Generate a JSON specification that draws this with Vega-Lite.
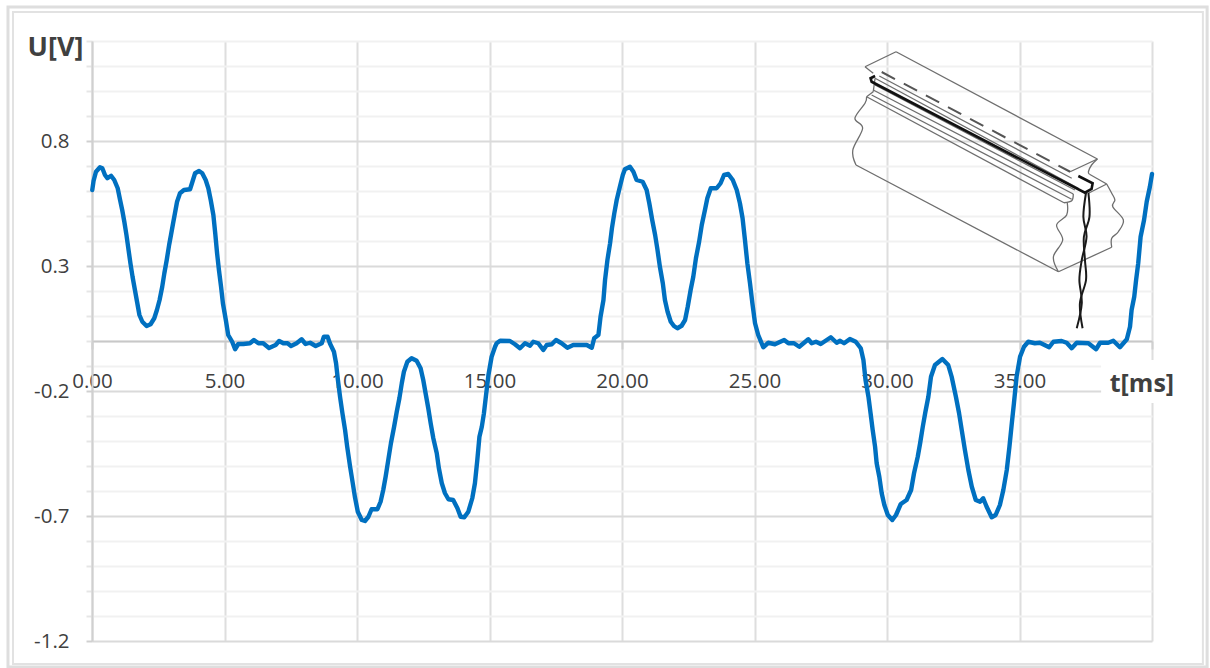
{
"$schema":"https://vega.github.io/schema/vega-lite/v6.json",
"width":1060,"height":600,
"autosize":{"type":"none"},
"padding":{"left":92,"top":41,"right":58,"bottom":27},
"background":"white",
"config":{"view":{"stroke":null},"font":"Open Sans"},
"datasets":{
"frameOuter":[{"t":-3.17,"t2":42.08,"U":1.336,"U2":-1.304}],
"frameInner":[{"t":-2.98,"t2":41.92,"U":1.316,"U2":-1.292}],
"labelBox":[{"t":38.08,"t2":41.2,"U":-0.076,"U2":-0.248}],
"xLabel":[{"t":39.62,"U":-0.172,"label":"t[ms]"}],
"signal":[
{"t":0.01,"U":0.604},{"t":0.06,"U":0.641},{"t":0.15,"U":0.677},{"t":0.30,"U":0.695},{"t":0.39,"U":0.691},{"t":0.49,"U":0.664},{"t":0.58,"U":0.651},{"t":0.72,"U":0.661},{"t":0.84,"U":0.644},{"t":0.97,"U":0.611},{"t":1.06,"U":0.564},{"t":1.14,"U":0.524},{"t":1.22,"U":0.477},{"t":1.30,"U":0.424},{"t":1.37,"U":0.371},{"t":1.45,"U":0.311},{"t":1.53,"U":0.257},{"t":1.62,"U":0.204},{"t":1.70,"U":0.157},{"t":1.79,"U":0.104},{"t":1.90,"U":0.077},{"t":2.06,"U":0.060},{"t":2.21,"U":0.067},{"t":2.35,"U":0.091},{"t":2.45,"U":0.124},{"t":2.55,"U":0.164},{"t":2.65,"U":0.217},{"t":2.73,"U":0.271},{"t":2.82,"U":0.324},{"t":2.91,"U":0.384},{"t":2.98,"U":0.424},{"t":3.06,"U":0.471},{"t":3.13,"U":0.511},{"t":3.21,"U":0.557},{"t":3.32,"U":0.591},{"t":3.47,"U":0.604},{"t":3.70,"U":0.607},{"t":3.79,"U":0.637},{"t":3.89,"U":0.671},{"t":4.04,"U":0.680},{"t":4.16,"U":0.671},{"t":4.29,"U":0.644},{"t":4.39,"U":0.611},{"t":4.48,"U":0.564},{"t":4.58,"U":0.504},{"t":4.65,"U":0.431},{"t":4.72,"U":0.351},{"t":4.79,"U":0.284},{"t":4.87,"U":0.217},{"t":4.94,"U":0.151},{"t":5.05,"U":0.084},{"t":5.14,"U":0.024},{"t":5.29,"U":-0.003},{"t":5.40,"U":-0.033},{"t":5.52,"U":-0.012},{"t":5.71,"U":-0.012},{"t":5.96,"U":-0.009},{"t":6.11,"U":0.004},{"t":6.28,"U":-0.009},{"t":6.46,"U":-0.009},{"t":6.68,"U":-0.028},{"t":6.93,"U":-0.016},{"t":7.06,"U":0.0},{"t":7.22,"U":-0.009},{"t":7.38,"U":-0.009},{"t":7.51,"U":-0.020},{"t":7.72,"U":-0.009},{"t":7.91,"U":0.007},{"t":8.06,"U":-0.012},{"t":8.23,"U":-0.007},{"t":8.44,"U":-0.020},{"t":8.67,"U":-0.009},{"t":8.75,"U":0.017},{"t":8.89,"U":0.017},
{"t":8.98,"U":-0.010},{"t":9.13,"U":-0.043},{"t":9.21,"U":-0.089},{"t":9.28,"U":-0.156},{"t":9.36,"U":-0.223},{"t":9.45,"U":-0.289},{"t":9.55,"U":-0.356},{"t":9.63,"U":-0.423},{"t":9.74,"U":-0.503},{"t":9.84,"U":-0.569},{"t":9.92,"U":-0.623},{"t":10.03,"U":-0.683},{"t":10.18,"U":-0.716},{"t":10.30,"U":-0.720},{"t":10.43,"U":-0.703},{"t":10.55,"U":-0.673},{"t":10.77,"U":-0.673},{"t":10.89,"U":-0.643},{"t":10.99,"U":-0.596},{"t":11.08,"U":-0.543},{"t":11.18,"U":-0.476},{"t":11.28,"U":-0.409},{"t":11.40,"U":-0.343},{"t":11.50,"U":-0.283},{"t":11.60,"U":-0.229},{"t":11.69,"U":-0.169},{"t":11.77,"U":-0.123},{"t":11.90,"U":-0.083},{"t":12.06,"U":-0.069},{"t":12.25,"U":-0.079},{"t":12.40,"U":-0.109},{"t":12.50,"U":-0.156},{"t":12.60,"U":-0.216},{"t":12.69,"U":-0.269},{"t":12.78,"U":-0.329},{"t":12.88,"U":-0.389},{"t":13.01,"U":-0.449},{"t":13.09,"U":-0.509},{"t":13.20,"U":-0.569},{"t":13.32,"U":-0.609},{"t":13.45,"U":-0.633},{"t":13.63,"U":-0.636},{"t":13.79,"U":-0.669},{"t":13.91,"U":-0.703},{"t":14.05,"U":-0.705},{"t":14.20,"U":-0.683},{"t":14.35,"U":-0.629},{"t":14.45,"U":-0.569},{"t":14.54,"U":-0.476},{"t":14.62,"U":-0.383},{"t":14.71,"U":-0.343},{"t":14.79,"U":-0.289},{"t":14.87,"U":-0.216},{"t":14.96,"U":-0.136},{"t":15.08,"U":-0.063},{"t":15.21,"U":-0.023},
{"t":15.27,"U":-0.009},{"t":15.40,"U":0.001},{"t":15.77,"U":0.0},{"t":15.96,"U":-0.013},{"t":16.15,"U":-0.029},{"t":16.34,"U":-0.009},{"t":16.53,"U":-0.019},{"t":16.65,"U":-0.003},{"t":16.84,"U":-0.009},{"t":17.03,"U":-0.036},{"t":17.16,"U":-0.016},{"t":17.35,"U":-0.013},{"t":17.51,"U":0.004},{"t":17.72,"U":-0.009},{"t":17.94,"U":-0.027},{"t":18.16,"U":-0.016},{"t":18.67,"U":-0.016},{"t":18.86,"U":-0.027},{"t":18.95,"U":0.011},{"t":19.07,"U":0.021},
{"t":19.11,"U":0.024},{"t":19.19,"U":0.097},{"t":19.30,"U":0.164},{"t":19.36,"U":0.244},{"t":19.45,"U":0.324},{"t":19.55,"U":0.391},{"t":19.62,"U":0.451},{"t":19.71,"U":0.511},{"t":19.80,"U":0.564},{"t":19.92,"U":0.617},{"t":20.03,"U":0.664},{"t":20.11,"U":0.687},{"t":20.30,"U":0.697},{"t":20.43,"U":0.677},{"t":20.55,"U":0.644},{"t":20.78,"U":0.637},{"t":20.93,"U":0.604},{"t":21.03,"U":0.551},{"t":21.14,"U":0.484},{"t":21.25,"U":0.424},{"t":21.33,"U":0.371},{"t":21.43,"U":0.297},{"t":21.54,"U":0.231},{"t":21.62,"U":0.164},{"t":21.72,"U":0.117},{"t":21.84,"U":0.077},{"t":21.96,"U":0.060},{"t":22.09,"U":0.051},{"t":22.25,"U":0.061},{"t":22.38,"U":0.084},{"t":22.48,"U":0.137},{"t":22.59,"U":0.204},{"t":22.69,"U":0.257},{"t":22.79,"U":0.331},{"t":22.91,"U":0.397},{"t":23.01,"U":0.464},{"t":23.13,"U":0.524},{"t":23.22,"U":0.571},{"t":23.35,"U":0.611},{"t":23.57,"U":0.611},{"t":23.72,"U":0.631},{"t":23.85,"U":0.664},{"t":24.01,"U":0.668},{"t":24.18,"U":0.644},{"t":24.33,"U":0.604},{"t":24.45,"U":0.551},{"t":24.55,"U":0.491},{"t":24.64,"U":0.404},{"t":24.73,"U":0.311},{"t":24.83,"U":0.231},{"t":24.92,"U":0.151},{"t":25.02,"U":0.071},{"t":25.14,"U":0.024},{"t":25.33,"U":-0.025},{"t":25.52,"U":-0.007},{"t":25.77,"U":-0.013},{"t":26.12,"U":0.004},{"t":26.28,"U":-0.009},{"t":26.49,"U":-0.009},{"t":26.69,"U":-0.023},{"t":27.03,"U":0.007},{"t":27.16,"U":-0.009},{"t":27.32,"U":-0.003},{"t":27.50,"U":-0.012},{"t":27.88,"U":0.015},{"t":28.10,"U":-0.007},{"t":28.23,"U":0.001},{"t":28.38,"U":-0.009},{"t":28.60,"U":0.008},{"t":28.82,"U":-0.003},{"t":29.01,"U":-0.029},
{"t":29.11,"U":-0.076},{"t":29.19,"U":-0.156},{"t":29.30,"U":-0.223},{"t":29.38,"U":-0.289},{"t":29.46,"U":-0.356},{"t":29.55,"U":-0.423},{"t":29.61,"U":-0.489},{"t":29.71,"U":-0.543},{"t":29.80,"U":-0.609},{"t":29.90,"U":-0.656},{"t":30.03,"U":-0.696},{"t":30.20,"U":-0.716},{"t":30.34,"U":-0.696},{"t":30.52,"U":-0.652},{"t":30.74,"U":-0.636},{"t":30.91,"U":-0.596},{"t":31.02,"U":-0.529},{"t":31.16,"U":-0.463},{"t":31.25,"U":-0.409},{"t":31.35,"U":-0.343},{"t":31.45,"U":-0.283},{"t":31.56,"U":-0.223},{"t":31.66,"U":-0.143},{"t":31.81,"U":-0.096},{"t":32.09,"U":-0.072},{"t":32.31,"U":-0.096},{"t":32.44,"U":-0.143},{"t":32.60,"U":-0.223},{"t":32.72,"U":-0.289},{"t":32.82,"U":-0.356},{"t":32.94,"U":-0.436},{"t":33.07,"U":-0.516},{"t":33.20,"U":-0.583},{"t":33.35,"U":-0.636},{"t":33.51,"U":-0.643},{"t":33.63,"U":-0.629},{"t":33.76,"U":-0.663},{"t":33.95,"U":-0.705},{"t":34.10,"U":-0.696},{"t":34.26,"U":-0.656},{"t":34.39,"U":-0.596},{"t":34.52,"U":-0.516},{"t":34.62,"U":-0.423},{"t":34.71,"U":-0.329},{"t":34.79,"U":-0.249},{"t":34.89,"U":-0.143},{"t":35.02,"U":-0.063},{"t":35.17,"U":-0.023},
{"t":35.33,"U":-0.003},{"t":35.58,"U":-0.009},{"t":35.77,"U":-0.007},{"t":36.12,"U":-0.025},{"t":36.28,"U":-0.003},{"t":36.59,"U":0.0},{"t":36.78,"U":-0.007},{"t":36.97,"U":-0.029},{"t":37.16,"U":-0.007},{"t":37.60,"U":-0.009},{"t":37.89,"U":-0.033},{"t":38.04,"U":-0.007},{"t":38.35,"U":-0.007},{"t":38.54,"U":0.001},{"t":38.79,"U":-0.025},{"t":39.05,"U":0.007},{"t":39.17,"U":0.057},{"t":39.23,"U":0.124},{"t":39.33,"U":0.177},{"t":39.40,"U":0.244},{"t":39.48,"U":0.311},{"t":39.57,"U":0.417},{"t":39.70,"U":0.484},{"t":39.80,"U":0.557},{"t":39.92,"U":0.617},{"t":40.0,"U":0.668}
],
"outline":[
{"path":"a","i":0,"t":29.48,"U":1.071},{"path":"a","i":1,"t":29.17,"U":1.097},
{"path":"b","i":0,"t":29.17,"U":1.097},{"path":"b","i":1,"t":30.34,"U":1.157},
{"path":"c","i":0,"t":30.34,"U":1.157},{"path":"c","i":1,"t":37.94,"U":0.728},
{"path":"d","i":0,"t":37.94,"U":0.728},{"path":"d","i":1,"t":37.72,"U":0.704},{"path":"d","i":2,"t":37.60,"U":0.677},{"path":"d","i":3,"t":37.64,"U":0.667},
{"path":"e","i":0,"t":36.91,"U":0.677},{"path":"e","i":1,"t":37.94,"U":0.728},
{"path":"f","i":0,"t":37.64,"U":0.667},{"path":"f","i":1,"t":38.29,"U":0.628},
{"path":"g","i":0,"t":38.29,"U":0.628},{"path":"g","i":1,"t":38.48,"U":0.591},{"path":"g","i":2,"t":38.60,"U":0.564},{"path":"g","i":3,"t":38.52,"U":0.537},{"path":"g","i":4,"t":38.92,"U":0.484},{"path":"g","i":5,"t":38.73,"U":0.437},{"path":"g","i":6,"t":38.48,"U":0.411},{"path":"g","i":7,"t":38.48,"U":0.375},
{"path":"h","i":0,"t":38.48,"U":0.375},{"path":"h","i":1,"t":36.47,"U":0.277},
{"path":"k","i":0,"t":37.60,"U":0.591},{"path":"k","i":1,"t":38.29,"U":0.628},
{"path":"m","i":0,"t":28.83,"U":0.704},{"path":"m","i":1,"t":36.47,"U":0.277},
{"path":"n","i":0,"t":29.23,"U":0.977},{"path":"n","i":1,"t":29.17,"U":0.951},{"path":"n","i":2,"t":28.79,"U":0.891},{"path":"n","i":3,"t":29.08,"U":0.851},{"path":"n","i":4,"t":28.71,"U":0.764},{"path":"n","i":5,"t":28.83,"U":0.704},
{"path":"p","i":0,"t":36.47,"U":0.277},{"path":"p","i":1,"t":36.28,"U":0.337},{"path":"p","i":2,"t":36.63,"U":0.404},{"path":"p","i":3,"t":36.40,"U":0.464},{"path":"p","i":4,"t":36.78,"U":0.504},{"path":"p","i":5,"t":36.80,"U":0.555},
{"path":"q","i":0,"t":29.23,"U":0.977},{"path":"q","i":1,"t":36.68,"U":0.553},
{"path":"r","i":0,"t":36.68,"U":0.553},{"path":"r","i":1,"t":36.97,"U":0.561},{"path":"r","i":2,"t":37.03,"U":0.588},
{"path":"s","i":0,"t":29.42,"U":0.984},{"path":"s","i":1,"t":36.97,"U":0.567},
{"path":"u","i":0,"t":29.48,"U":1.004},{"path":"u","i":1,"t":37.03,"U":0.588},
{"path":"v","i":0,"t":29.55,"U":1.024},{"path":"v","i":1,"t":37.09,"U":0.604},
{"path":"w","i":0,"t":29.55,"U":1.051},{"path":"w","i":1,"t":37.22,"U":0.611},
{"path":"x","i":0,"t":29.23,"U":0.977},{"path":"x","i":1,"t":29.48,"U":0.997},
{"path":"y","i":0,"t":29.48,"U":0.997},{"path":"y","i":1,"t":29.55,"U":1.051},
{"path":"z","i":0,"t":29.71,"U":1.060},{"path":"z","i":1,"t":36.97,"U":0.651}
],
"thick":[
{"i":0,"t":29.55,"U":1.060},{"i":1,"t":29.38,"U":1.051},{"i":2,"t":29.42,"U":1.037},{"i":3,"t":37.47,"U":0.593},{"i":4,"t":37.72,"U":0.608},{"i":5,"t":37.76,"U":0.631},{"i":6,"t":37.22,"U":0.660}
],
"dashed":[{"t":29.80,"U":1.076},{"t":36.91,"U":0.677}],
"wires":[
{"path":"w1","i":0,"t":37.51,"U":0.593},{"path":"w1","i":1,"t":37.41,"U":0.497},{"path":"w1","i":2,"t":37.53,"U":0.417},{"path":"w1","i":3,"t":37.35,"U":0.324},{"path":"w1","i":4,"t":37.26,"U":0.244},{"path":"w1","i":5,"t":37.35,"U":0.151},{"path":"w1","i":6,"t":37.16,"U":0.051},
{"path":"w2","i":0,"t":37.60,"U":0.593},{"path":"w2","i":1,"t":37.64,"U":0.497},{"path":"w2","i":2,"t":37.43,"U":0.417},{"path":"w2","i":3,"t":37.47,"U":0.324},{"path":"w2","i":4,"t":37.51,"U":0.244},{"path":"w2","i":5,"t":37.28,"U":0.151},{"path":"w2","i":6,"t":37.38,"U":0.051}
]
},
"encoding":{
  "x":{"field":"t","type":"quantitative","scale":{"domain":[0,40],"nice":false,"zero":false},
   "axis":{"values":[0,5,10,15,20,25,30,35,40],"labelExpr":"datum.value==40?'':format(datum.value,'.2f')","title":null,"offset":-300,"grid":true,"gridColor":"#dedede","gridWidth":2,"domain":true,"domainColor":"#c8c8c8","domainWidth":2,"ticks":true,"tickColor":"#d0d0d0","tickWidth":2,"tickSize":8,"labelFont":"Open Sans","labelFontSize":20.5,"labelColor":"#404040","labelPadding":22,"labelFlush":false,"labelOverlap":false}},
  "y":{"field":"U","type":"quantitative","scale":{"domain":[-1.2,1.2],"nice":false,"zero":false},
   "axis":{"values":[-1.2,-1.1,-1.0,-0.9,-0.8,-0.7,-0.6,-0.5,-0.4,-0.3,-0.2,-0.1,0,0.1,0.2,0.3,0.4,0.5,0.6,0.7,0.8,0.9,1.0,1.1,1.2],
    "labelExpr":"indexof([-1.2,-0.7,-0.2,0.3,0.8],datum.value)>=0?''+datum.value:''",
    "title":"U[V]","titleAngle":0,"titleX":-37,"titleY":6,"titleAlign":"center","titleBaseline":"middle","titleFont":"Open Sans","titleFontSize":27,"titleFontWeight":"bold","titleColor":"#404040",
    "grid":true,"gridWidth":2,"gridColor":{"condition":{"test":"indexof([-1.2,-0.7,-0.2,0.3,0.8],datum.value)>=0","value":"#dadada"},"value":"#f1f1f1"},
    "domain":true,"domainColor":"#d0d0d0","domainWidth":2,"ticks":true,"tickSize":6,"tickWidth":2,"tickColor":{"condition":{"test":"indexof([-1.2,-0.7,-0.2,0.3,0.8],datum.value)>=0","value":"#d0d0d0"},"value":"#e6e6e6"},
    "labelFont":"Open Sans","labelFontSize":20.5,"labelColor":"#404040","labelPadding":17,"labelOverlap":false,"labelFlush":false}}
},
"layer":[
{"data":{"name":"frameOuter"},
 "mark":{"type":"rect","fill":"transparent","stroke":"#dedede","strokeWidth":3,"clip":false},
 "encoding":{"x2":{"field":"t2"},"y2":{"field":"U2"}}},
{"data":{"name":"frameInner"},
 "mark":{"type":"rect","fill":"transparent","stroke":"#e2e2e2","strokeWidth":2,"clip":false},
 "encoding":{"x2":{"field":"t2"},"y2":{"field":"U2"}}},
{"data":{"name":"labelBox"},
 "mark":{"type":"rect","fill":"white","clip":false},
 "encoding":{"x2":{"field":"t2"},"y2":{"field":"U2"}}},
{"data":{"name":"outline"},
 "mark":{"type":"line","stroke":"#6e6e6e","strokeWidth":1.3,"interpolate":"cardinal"},
 "encoding":{"detail":{"field":"path"},"order":{"field":"i","type":"quantitative"}}},
{"data":{"name":"dashed"},
 "mark":{"type":"line","stroke":"#555555","strokeWidth":2,"strokeDash":[15,10]},
 "encoding":{}},
{"data":{"name":"thick"},
 "mark":{"type":"line","stroke":"#111111","strokeWidth":2.6},
 "encoding":{"order":{"field":"i","type":"quantitative"}}},
{"data":{"name":"wires"},
 "mark":{"type":"line","stroke":"#1a1a1a","strokeWidth":2,"interpolate":"cardinal"},
 "encoding":{"detail":{"field":"path"},"order":{"field":"i","type":"quantitative"}}},
{"data":{"name":"signal"},
 "mark":{"type":"line","stroke":"#0070c0","strokeWidth":4.4,"strokeJoin":"round","strokeCap":"round","clip":false},
 "encoding":{}},
{"data":{"name":"xLabel"},
 "mark":{"type":"text","font":"Open Sans","fontSize":25,"fontWeight":"bold","color":"#404040","align":"center","baseline":"middle","clip":false},
 "encoding":{"text":{"field":"label"}}}
]
}
